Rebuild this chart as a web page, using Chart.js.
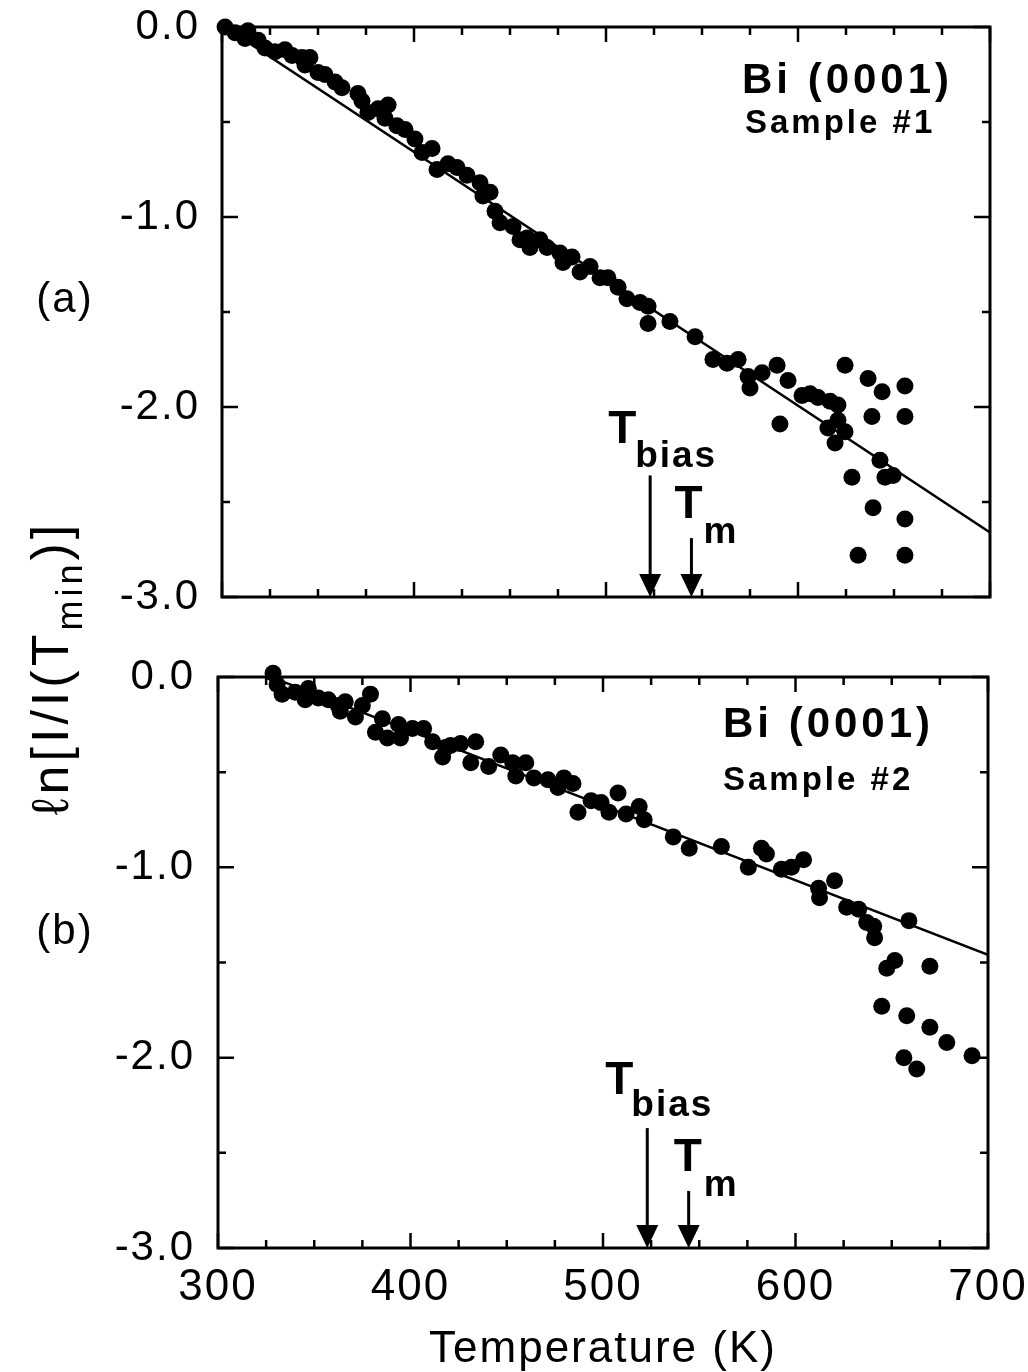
<!DOCTYPE html>
<html>
<head>
<meta charset="utf-8">
<script src="https://cdn.jsdelivr.net/npm/chart.js@4/dist/chart.umd.min.js"></script>
<style>
  html, body { margin: 0; padding: 0; background: #fff; }
  #fig { position: relative; width: 1028px; height: 1372px; overflow: hidden;
         font-family: "Liberation Sans", Arial, Helvetica, sans-serif; color: #000; }
  #fig canvas { position: absolute; left: 0; }
  #cA { top: 0; }
  #cB { top: 640px; }
  .plab { position: absolute; font-size: 42px; line-height: 1; letter-spacing: 2px;
          transform: translate(-50%, -50%); white-space: nowrap; }
  #ytitle { position: absolute; left: 50px; top: 668px; font-size: 52px; line-height: 1;
            letter-spacing: 4px; white-space: nowrap;
            transform: translate(-50%, -50%) rotate(-90deg); }
  #ytitle sub { font-size: 36px; vertical-align: baseline; position: relative; top: 14px; }
</style>
</head>
<body>
<div id="fig">
  <canvas id="cA" width="1028" height="640"></canvas>
  <canvas id="cB" width="1028" height="732"></canvas>
  <div class="plab" style="left:65px; top:298px;">(a)</div>
  <div class="plab" style="left:65px; top:930px;">(b)</div>
  <div id="ytitle">ℓn[I/I(T<sub>min</sub>)]</div>
</div>
<script>
// Sample #1: temperature (K) and ln[I/I(Tmin)]
const tempA = [301.6, 306.8, 312.0, 313.5, 318.8, 322.4, 327.6, 332.8, 336.5, 341.7,
  343.2, 345.8, 350.0, 353.6, 358.9, 362.5, 370.8, 372.9, 376.0, 381.3,
  384.9, 386.5, 391.1, 395.3, 400.5, 404.2, 409.4, 412.0, 417.7, 422.4,
  427.6, 434.4, 435.9, 439.6, 442.2, 444.8, 451.6, 455.2, 458.9, 460.4,
  465.6, 469.3, 476.0, 477.6, 482.3, 486.5, 491.7, 496.9, 501.0, 506.3,
  510.9, 517.7, 521.9, 521.9, 533.3, 546.4, 555.7, 563.0, 568.8, 574.0,
  575.0, 581.3, 589.1, 590.6, 594.8, 602.1, 606.3, 610.4, 615.6, 616.7,
  619.3, 620.8, 620.8, 624.5, 624.5, 628.1, 631.3, 636.5, 638.5, 639.1,
  642.7, 643.8, 645.3, 649.5, 655.7, 655.7, 655.7, 655.7];
const lnA = [0.00, -0.03, -0.06, -0.02, -0.07, -0.11, -0.13, -0.12, -0.15, -0.16,
  -0.20, -0.16, -0.24, -0.25, -0.29, -0.32, -0.35, -0.39, -0.45, -0.43,
  -0.48, -0.41, -0.52, -0.54, -0.59, -0.66, -0.64, -0.75, -0.72, -0.74,
  -0.78, -0.82, -0.89, -0.87, -0.97, -1.03, -1.05, -1.12, -1.11, -1.16,
  -1.12, -1.16, -1.19, -1.24, -1.21, -1.29, -1.26, -1.32, -1.32, -1.37,
  -1.43, -1.45, -1.47, -1.56, -1.55, -1.63, -1.75, -1.77, -1.75, -1.84,
  -1.90, -1.82, -1.78, -2.09, -1.86, -1.94, -1.93, -1.95, -2.11, -1.97,
  -2.19, -1.99, -2.07, -2.13, -1.78, -2.37, -2.78, -1.85, -2.05, -2.53,
  -2.28, -1.92, -2.37, -2.36, -1.89, -2.05, -2.59, -2.78];

// Sample #2
const tempB = [328.6, 330.7, 333.3, 340.1, 345.3, 346.9, 352.1, 357.3, 362.5, 363.5,
  366.1, 371.4, 375.0, 379.2, 381.8, 385.4, 388.0, 393.8, 394.8, 401.0,
  406.8, 411.5, 416.7, 418.2, 420.8, 426.0, 431.3, 433.9, 440.6, 446.9,
  453.1, 454.7, 459.9, 464.1, 471.4, 476.6, 479.7, 484.4, 487.0, 493.8,
  499.0, 503.1, 507.8, 512.0, 518.8, 521.4, 536.5, 544.8, 561.5, 575.5,
  582.3, 584.9, 592.7, 597.9, 604.2, 612.0, 612.5, 620.3, 626.6, 632.8,
  637.0, 640.6, 641.1, 644.8, 647.4, 651.6, 656.3, 657.8, 658.9, 663.0,
  669.8, 669.8, 678.6, 691.7];
const lnB = [0.02, -0.04, -0.09, -0.08, -0.12, -0.06, -0.11, -0.12, -0.15, -0.18,
  -0.13, -0.21, -0.15, -0.09, -0.29, -0.22, -0.32, -0.25, -0.32, -0.27,
  -0.27, -0.34, -0.42, -0.37, -0.36, -0.35, -0.45, -0.34, -0.47, -0.41,
  -0.45, -0.52, -0.45, -0.53, -0.54, -0.58, -0.53, -0.56, -0.71, -0.65,
  -0.66, -0.71, -0.61, -0.72, -0.68, -0.75, -0.84, -0.90, -0.89, -1.00,
  -0.90, -0.93, -1.01, -1.00, -0.96, -1.11, -1.16, -1.07, -1.21, -1.22,
  -1.29, -1.31, -1.37, -1.73, -1.53, -1.49, -2.00, -1.78, -1.28, -2.06,
  -1.52, -1.84, -1.92, -1.99];

// Straight-line fits (end points)
const fitTempA = [300, 700];
const fitLnA = [0.01, -2.66];
const fitTempB = [330, 700];
const fitLnB = [-0.01, -1.46];

// Marked temperatures: bias temperature and bulk melting point of Bi
const markTemps = [523, 544.5];
const markNames = ['bias', 'm'];
const arrowTopA = [-2.36, -2.69];
const arrowTopB = [-2.37, -2.70];

// Axis ranges and tick values
const xRange = [300, 700];
const yRange = [-3, 0];
const xTickStep = 100, xMinorStep = 25;
const yTickStep = 1, yMinorStep = 0.5;

const FONT = '"Liberation Sans", Arial, Helvetica, sans-serif';

function pts(xs, ys) { return xs.map((t, i) => ({ x: t, y: ys[i] })); }

// Frame with inward-pointing major/minor ticks on all four sides
function drawFrame(chart) {
  const { ctx, chartArea: { left, right, top, bottom }, scales: { x, y } } = chart;
  ctx.save();
  ctx.strokeStyle = '#000';
  ctx.lineWidth = 2.5;
  ctx.beginPath();
  for (let v = x.min; v <= x.max + 1e-9; v += xMinorStep) {
    const px = x.getPixelForValue(v);
    const len = Math.abs(v % xTickStep) < 1e-6 ? 15 : 8;
    ctx.moveTo(px, top); ctx.lineTo(px, top + len);
    ctx.moveTo(px, bottom); ctx.lineTo(px, bottom - len);
  }
  for (let v = y.min; v <= y.max + 1e-9; v += yMinorStep) {
    const py = y.getPixelForValue(v);
    const len = Math.abs(v - Math.round(v / yTickStep) * yTickStep) < 1e-6 ? 16 : 8;
    ctx.moveTo(left, py); ctx.lineTo(left + len, py);
    ctx.moveTo(right, py); ctx.lineTo(right - len, py);
  }
  ctx.stroke();
  ctx.lineWidth = 3;
  ctx.strokeRect(left, top, right - left, bottom - top);
  ctx.restore();
}

const annotPlugin = {
  id: 'annot',
  beforeDraw(chart) { chart.ctx.letterSpacing = '2px'; },
  beforeDatasetsDraw(chart) { drawFrame(chart); },
  afterDatasetsDraw(chart, args, o) {
    const { ctx, scales: { x, y } } = chart;
    ctx.save();
    ctx.fillStyle = '#000';
    ctx.strokeStyle = '#000';
    ctx.textAlign = 'left';
    ctx.textBaseline = 'alphabetic';
    const tip = y.getPixelForValue(y.min);
    markTemps.forEach((t, i) => {
      const ax = x.getPixelForValue(t);
      const top = y.getPixelForValue(o.arrowTops[i]);
      ctx.lineWidth = 3;
      ctx.beginPath();
      ctx.moveTo(ax, top); ctx.lineTo(ax, tip - 20);
      ctx.stroke();
      ctx.beginPath();
      ctx.moveTo(ax - 11, tip - 23); ctx.lineTo(ax + 11, tip - 23); ctx.lineTo(ax, tip);
      ctx.closePath(); ctx.fill();
      const lab = o.labels[i];
      ctx.letterSpacing = '0px';
      ctx.font = 'bold 46px ' + FONT;
      ctx.fillText('T', ax + lab[0], top + lab[1]);
      ctx.letterSpacing = '2px';
      ctx.font = 'bold 37px ' + FONT;
      ctx.fillText(markNames[i], ax + lab[2], top + lab[3]);
    });
    ctx.letterSpacing = '4px';
    ctx.font = 'bold 42px ' + FONT;
    ctx.fillText(o.title, o.titlePos[0], o.titlePos[1]);
    ctx.letterSpacing = '3px';
    ctx.font = 'bold 33px ' + FONT;
    ctx.fillText(o.sub, o.subPos[0], o.subPos[1]);
    ctx.restore();
  }
};

function makeChart(id, cfg) {
  return new Chart(document.getElementById(id), {
    type: 'scatter',
    data: {
      datasets: [
        { data: pts(cfg.temps, cfg.vals), pointRadius: 8.5, pointHoverRadius: 8.5,
          backgroundColor: '#000', borderWidth: 0, clip: false, order: 0 },
        { type: 'line', data: pts(cfg.fitT, cfg.fitV), showLine: true, pointRadius: 0,
          borderColor: '#000', borderWidth: 2.5, fill: false, order: 1 }
      ]
    },
    options: {
      responsive: false,
      animation: false,
      events: [],
      layout: { padding: cfg.padding },
      plugins: {
        legend: { display: false },
        tooltip: { enabled: false },
        annot: cfg.annot
      },
      scales: {
        x: {
          type: 'linear', min: xRange[0], max: xRange[1],
          grid: { display: false, drawTicks: false }, border: { display: false },
          ticks: { display: cfg.showX, stepSize: xTickStep, color: '#000', padding: 18,
                   font: { family: FONT, size: 44, lineHeight: 1 } },
          title: { display: cfg.showX, text: 'Temperature (K)', color: '#000',
                   font: { family: FONT, size: 44, lineHeight: 1 }, padding: { top: 0, bottom: 0 } },
          afterFit: (s) => {
            s.height = cfg.xHeight;
            s.paddingLeft = 0; s.paddingRight = 0;
          }
        },
        y: {
          min: yRange[0], max: yRange[1],
          grid: { display: false, drawTicks: false }, border: { display: false },
          ticks: { stepSize: yTickStep, color: '#000', padding: cfg.yPad,
                   font: { family: FONT, size: 42, lineHeight: 1 },
                   callback: (v) => (v === 0 ? '0.0' : v.toFixed(1)) },
          afterFit: (s) => {
            s.width = cfg.yWidth;
            s.paddingTop = 0; s.paddingBottom = 0;
          }
        }
      }
    },
    plugins: [annotPlugin]
  });
}

makeChart('cA', {
  temps: tempA, vals: lnA, fitT: fitTempA, fitV: fitLnA,
  padding: { left: 0, right: 38, top: 27, bottom: 0 },
  showX: false, xHeight: 43, yWidth: 222, yPad: 22,
  annot: {
    arrowTops: arrowTopA,
    labels: [[-42, -32, -15, -8], [-17, -20, 12, 5]],
    title: 'Bi (0001)', titlePos: [742, 93],
    sub: 'Sample #1', subPos: [745, 133]
  }
});

makeChart('cB', {
  temps: tempB, vals: lnB, fitT: fitTempB, fitV: fitLnB,
  padding: { left: 0, right: 40, top: 37, bottom: 0 },
  showX: true, xHeight: 124, yWidth: 218, yPad: 23,
  annot: {
    arrowTops: arrowTopB,
    labels: [[-42, -34, -16, -12], [-15, -20, 15, 5]],
    title: 'Bi (0001)', titlePos: [723, 97],
    sub: 'Sample #2', subPos: [723, 150]
  }
});
</script>
</body>
</html>
